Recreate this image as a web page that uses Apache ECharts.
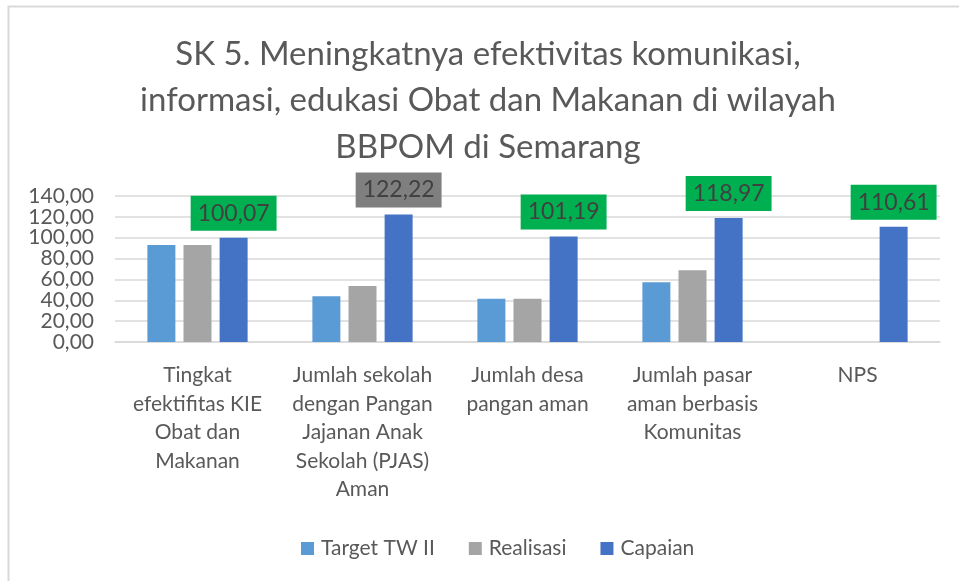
<!DOCTYPE html>
<html>
<head>
<meta charset="utf-8">
<script src="https://cdn.jsdelivr.net/npm/echarts@6/dist/echarts.min.js"></script>
<style>
  html, body { margin: 0; padding: 0; background: #fff; }
  #chart { width: 959px; height: 581px; }
</style>
</head>
<body>
<div id="chart"></div>
<script>
// Indicator categories (x axis)
const categories = [
  'Tingkat\nefektifitas KIE\nObat dan\nMakanan',
  'Jumlah sekolah\ndengan Pangan\nJajanan Anak\nSekolah (PJAS)\nAman',
  'Jumlah desa\npangan aman',
  'Jumlah pasar\naman berbasis\nKomunitas',
  'NPS'
];

// Series values
const targetTW2 = [93.0, 43.8, 41.5, 57.2, null];
const realisasi = [93.0, 53.7, 41.5, 68.7, null];
const capaian   = [100.07, 122.22, 101.19, 118.97, 110.61];

// Label box colour for each Capaian value
const capaianLabelColors = ['#00B050', '#7F7F7F', '#00B050', '#00B050', '#00B050'];

// Y axis ticks
const yMin = 0, yMax = 140, yStep = 20;

const FONT = 'Lato';
const fmt = v => Number(v).toFixed(2).replace('.', ',');

const chart = echarts.init(document.getElementById('chart'));

chart.setOption({
  backgroundColor: '#ffffff',
  animation: false,
  textStyle: { fontFamily: FONT },
  graphic: [{
    type: 'rect',
    shape: { x: 8.5, y: 6.5, width: 1000, height: 1000 },
    style: { fill: 'none', stroke: '#d9d9d9', lineWidth: 2 },
    silent: true
  }],
  title: {
    text: 'SK 5. Meningkatnya efektivitas komunikasi,\ninformasi, edukasi Obat dan Makanan di wilayah\nBBPOM di Semarang',
    left: 483,
    textAlign: 'center',
    top: 26,
    textStyle: {
      fontFamily: FONT,
      fontWeight: 'normal',
      fontSize: 33,
      lineHeight: 46.5,
      color: '#595959'
    }
  },
  legend: {
    top: 533,
    left: 296,
    itemWidth: 13,
    itemHeight: 13,
    itemGap: 34,
    icon: 'rect',
    textStyle: { fontFamily: FONT, fontSize: 21, color: '#595959', padding: [0, 0, 0, 2] },
    data: ['Target TW II', 'Realisasi', 'Capaian']
  },
  grid: { left: 115, right: 19, top: 196, height: 146 },
  xAxis: {
    type: 'category',
    data: categories,
    axisLine: { lineStyle: { color: '#d9d9d9', width: 1.5 } },
    axisTick: { show: false },
    axisLabel: {
      interval: 0,
      margin: 19,
      fontFamily: FONT,
      fontSize: 21,
      lineHeight: 28.5,
      color: '#595959',
      align: 'center'
    }
  },
  yAxis: {
    type: 'value',
    min: yMin,
    max: yMax,
    interval: yStep,
    axisLine: { show: false },
    axisTick: { show: false },
    splitLine: { lineStyle: { color: '#d9d9d9', width: 1.5 } },
    axisLabel: {
      margin: 21,
      fontFamily: FONT,
      fontSize: 21,
      color: '#595959',
      formatter: v => fmt(v)
    }
  },
  series: [
    {
      name: 'Target TW II',
      type: 'bar',
      data: targetTW2,
      barWidth: 28,
      barGap: '29%',
      itemStyle: { color: '#5B9BD5' }
    },
    {
      name: 'Realisasi',
      type: 'bar',
      data: realisasi,
      barWidth: 28,
      barGap: '29%',
      itemStyle: { color: '#A5A5A5' }
    },
    {
      name: 'Capaian',
      type: 'bar',
      data: capaian.map((v, i) => ({
        value: v,
        label: { backgroundColor: capaianLabelColors[i] }
      })),
      barWidth: 28,
      barGap: '29%',
      itemStyle: { color: '#4472C4' },
      label: {
        show: true,
        position: 'top',
        distance: 7,
        fontFamily: FONT,
        fontSize: 23,
        color: '#404040',
        padding: [6, 7, 6, 7],
        formatter: p => fmt(p.value)
      }
    }
  ]
});
</script>
</body>
</html>
